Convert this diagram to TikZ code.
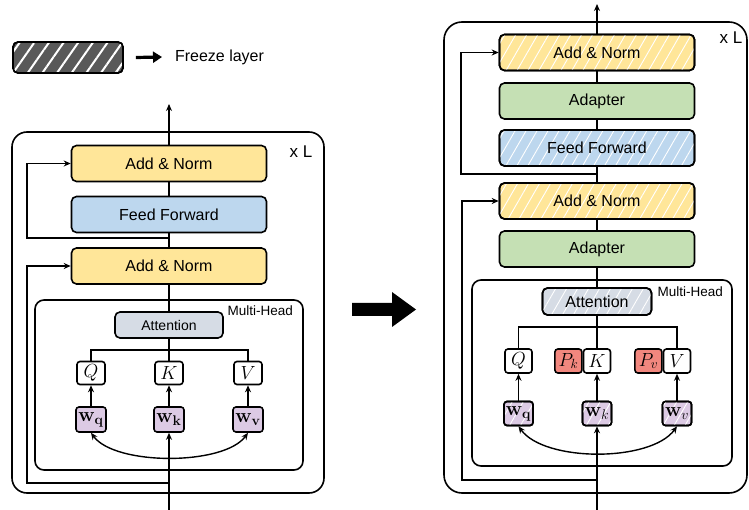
\documentclass[tikz,border=0pt]{standalone}
\usepackage{fix-cm}
\usepackage[no-math]{fontspec}
\setmainfont{Liberation Sans}
\usetikzlibrary{arrows.meta,patterns.meta,positioning}

\definecolor{normc}{HTML}{FFE699}
\definecolor{ffc}{HTML}{BDD7EE}
\definecolor{adc}{HTML}{C5E0B4}
\definecolor{attc}{HTML}{D6DCE5}
\definecolor{wc}{HTML}{DCCAE4}
\definecolor{pc}{HTML}{F2877E}
\definecolor{frzc}{HTML}{595959}

\begin{document}
\begin{tikzpicture}[x=1pt,y=-1pt,line width=1.4pt,>={Stealth[length=7pt,width=6pt]}]
\tikzset{blk/.style={draw,rounded corners=5pt,line width=1.6pt,minimum width=195pt,minimum height=36pt,inner sep=0pt,font=\fontsize{16}{19}\selectfont},
         att/.style={blk,fill=attc,minimum width=108pt,minimum height=26pt},
         qkv/.style={draw,rounded corners=3pt,line width=1.6pt,minimum width=28pt,minimum height=23pt,inner sep=0pt,font=\fontsize{19}{22}\selectfont},
         wbox/.style={qkv,fill=wc,minimum width=30pt,minimum height=25pt,font=\fontsize{20}{23}\selectfont},
         frozen/.style={postaction={pattern={Lines[angle=60,distance=9.5pt,line width=0.9pt]},pattern color=white},postaction={draw}},
         tag/.style={font=\fontsize{13.5}{16}\selectfont,anchor=east},
         rep/.style={font=\fontsize{17}{20}\selectfont}}
\useasboundingbox (0,0) rectangle (749,510);

% legend
\node[draw,rounded corners=5pt,line width=1.6pt,fill=frzc,minimum width=110pt,minimum height=31pt,
      postaction={pattern={Lines[angle=55,distance=12pt,line width=2pt]},pattern color=white},postaction={draw}] (frz) at (68,57.5) {};
\node[anchor=west,font=\fontsize{16}{19}\selectfont] (frzlbl) at (171,57) {Freeze layer};
\draw[line width=3.2pt,-{Triangle[length=9pt,width=11pt]}] ([xshift=12pt]frz.east) -- ([xshift=-9pt]frzlbl.west);

% ---------------- plain encoder layer ----------------
\draw[line width=1.6pt,rounded corners=15pt] (12,132) rectangle (324,493);
\draw[line width=1.6pt,rounded corners=9pt] (35,300) rectangle (303,470);
\node[rep] (xL) at (301,152) {x L};
\node[tag] (mhL) at (297,311) {Multi-Head};

\node[blk,fill=normc] (nL1) at (169,163.5) {Add \& Norm};
\node[blk,fill=ffc] (ffL) at (169,214.5) {Feed Forward};
\node[blk,fill=normc] (nL2) at (169,266) {Add \& Norm};
\node[att,font=\fontsize{14}{17}\selectfont] (attL) at (169,325) {Attention};
\foreach \s/\x/\t in {q/91/Q, k/169/K, v/248/V}
{
    \node[qkv] (\s L) at (\x,373) {$\t$};
    \node[wbox] (w\s L) at (\x,419.5) {$\mathbf{w}_{\mathbf{\s}}$};
    \draw[->] (w\s L.north) -- (\s L.south);
}

\coordinate (outL) at (169,104);
\coordinate (resL) at (169,238);
\coordinate (busL) at (169,350);
\coordinate (splitL) at (169,483);
\coordinate (inL) at (169,510);
\draw[->] (nL1.north) -- (outL);
\draw (nL1.south) -- (ffL.north);
\draw (ffL.south) -- (nL2.north);
\draw (nL2.south) -- (attL.north);
\draw[->] (resL) -- (27,238) |- (nL1.west);
\draw (attL.south) -- (busL);
\draw (qL.north) |- (busL) -| (vL.north);
\draw (kL.north) -- (busL);
\draw[->] (inL) -- (wkL.south);
\draw[->] (splitL) -- (27,483) |- (nL2.west);
\draw[<->] (wqL.south) .. controls +(24,33) and +(-24,33) .. (wvL.south);

% the big arrow
\fill (352,303) -- (392,303) -- (392,292) -- (416,309.5) -- (392,327) -- (392,316) -- (352,316) -- cycle;

% ---------------- layer with adapters and prefixes ----------------
\draw[line width=1.6pt,rounded corners=18pt] (444,22) rectangle (747,493);
\draw[line width=1.6pt,rounded corners=9pt] (472,280) rectangle (732,466);
\node[rep] (xR) at (731,38) {x L};
\node[tag] (mhR) at (727,292) {Multi-Head};

\node[blk,fill=normc,frozen] (nR1) at (597,52.5) {Add \& Norm};
\node[blk,fill=adc] (adR1) at (597,101) {Adapter};
\node[blk,fill=ffc,frozen] (ffR) at (597,148) {Feed Forward};
\node[blk,fill=normc,frozen] (nR2) at (597,201) {Add \& Norm};
\node[blk,fill=adc] (adR2) at (597,249) {Adapter};
\node[att,frozen,minimum width=109pt,minimum height=27pt] (attR) at (597,301.5) {Attention};
\foreach \s/\x/\t/\b in {q/518.5/Q/\mathbf{q}, k/597/K/k, v/677/V/v}
{
    \node[qkv,minimum width=27pt,minimum height=24pt] (\s R) at (\x,361) {$\t$};
    \node[wbox,frozen,minimum width=29pt,minimum height=24pt] (w\s R) at (\x,413.5) {$\mathbf{w}_{\b}$};
    \draw[->] (w\s R.north) -- (\s R.south);
}
\node[qkv,fill=pc,minimum width=27pt,minimum height=24pt,left=0pt of kR] (pkR) {$P_k$};
\node[qkv,fill=pc,minimum width=27pt,minimum height=24pt,left=0pt of vR] (pvR) {$P_v$};

\coordinate (outR) at (597,4);
\coordinate (resR) at (597,174);
\coordinate (busR) at (597,327);
\coordinate (splitR) at (597,480);
\coordinate (inR) at (597,510);
\draw[->] (nR1.north) -- (outR);
\draw (nR1.south) -- (adR1.north);
\draw (adR1.south) -- (ffR.north);
\draw (ffR.south) -- (nR2.north);
\draw (nR2.south) -- (adR2.north);
\draw (adR2.south) -- (attR.north);
\draw[->] (resR) -- (461,174) |- (nR1.west);
\draw (attR.south) -- (busR);
\draw (qR.north) |- (busR) -| (vR.north);
\draw (kR.north) -- (busR);
\draw[->] (inR) -- (wkR.south);
\draw[->] (splitR) -- (462,480) |- (nR2.west);
\draw[<->] (wqR.south) .. controls +(26,36) and +(-26,36) .. (wvR.south);
\end{tikzpicture}
\end{document}
